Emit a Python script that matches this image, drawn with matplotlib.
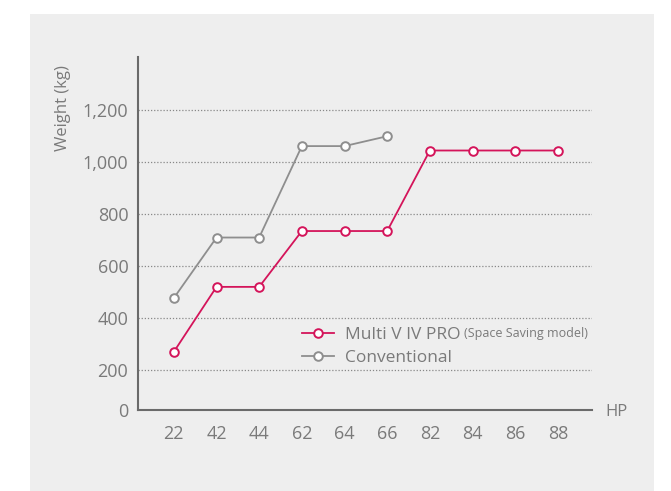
import matplotlib
matplotlib.use("Agg")
import matplotlib.pyplot as plt
from matplotlib.patches import Rectangle
import numpy as np

hp_labels = ["22", "42", "44", "62", "64", "66", "82", "84", "86", "88"]
multi_v = [270, 520, 520, 735, 735, 735, 1045, 1045, 1045, 1045]
conventional = [477, 710, 710, 1062, 1062, 1100]
y_ticks = [200, 400, 600, 800, 1000, 1200]
y_tick_labels = ["200", "400", "600", "800", "1,000", "1,200"]

plt.rcParams['font.family'] = ['Open Sans', 'DejaVu Sans']

W, H = 671, 491
fig = plt.figure(figsize=(6.71, 4.91), dpi=100)
fig.patch.set_facecolor('white')
fig.patches.append(Rectangle((30/W, 0), (654-30)/W, (H-14)/H,
                             transform=fig.transFigure, facecolor='#eeeeee',
                             edgecolor='none', zorder=-5))

ax = fig.add_axes([138/W, 1-410/H, (592-138)/W, (410-57)/H])
ax.set_facecolor('none')
ax.set_zorder(2)

pink = '#d4145a'
grey = '#8e8e8e'
txt = '#7a7a7a'

x = np.arange(len(hp_labels))
ax.plot(x, multi_v, color=pink, lw=1.3, marker='o', ms=6.2, mfc='white',
        mec=pink, mew=1.4, label='Multi V IV PRO', zorder=3)
ax.plot(x[:len(conventional)], conventional, color=grey, lw=1.3, marker='o',
        ms=6.2, mfc='white', mec=grey, mew=1.4, label='Conventional', zorder=3)

ybot = 46
ax.set_ylim(ybot, 1405)
ax.set_xlim(-0.84, 9.8)

ax.set_yticks([ybot] + y_ticks)
ax.set_yticklabels(["0"] + y_tick_labels)
ax.set_xticks(x)
ax.set_xticklabels(hp_labels)
ax.tick_params(axis='both', length=0, labelsize=13, labelcolor=txt)
ax.tick_params(axis='y', pad=7)
ax.tick_params(axis='x', pad=11)

for v in y_ticks:
    ax.axhline(v, color='#888888', lw=0.9, ls=(0, (1, 1.5)), zorder=1)

for s in ['top', 'right']:
    ax.spines[s].set_visible(False)
for s in ['left', 'bottom']:
    ax.spines[s].set_color('#6a6a6a')
    ax.spines[s].set_linewidth(1.5)

fig.text(63/W, 1-108/H, 'Weight (kg)', rotation=90, ha='center', va='center',
         fontsize=12, color=txt)
fig.text(605/W, 1-412/H, 'HP', ha='left', va='center', fontsize=12, color=txt)

leg = ax.legend(loc='upper left', bbox_to_anchor=(302/W, 1-327/H),
                bbox_transform=fig.transFigure,
                frameon=False, fontsize=12.5, handlelength=1.85, handletextpad=0.6,
                labelspacing=0.38, borderaxespad=0, borderpad=0)
for t in leg.get_texts():
    t.set_color(txt)

fig.canvas.draw()
bb = leg.get_texts()[0].get_window_extent()
fig.text((bb.x1 + 4)/W, (bb.y0 + 3)/H, '(Space Saving model)', ha='left',
         va='bottom', fontsize=9, color=txt, zorder=10)

fig.savefig('out.png', dpi=100)
